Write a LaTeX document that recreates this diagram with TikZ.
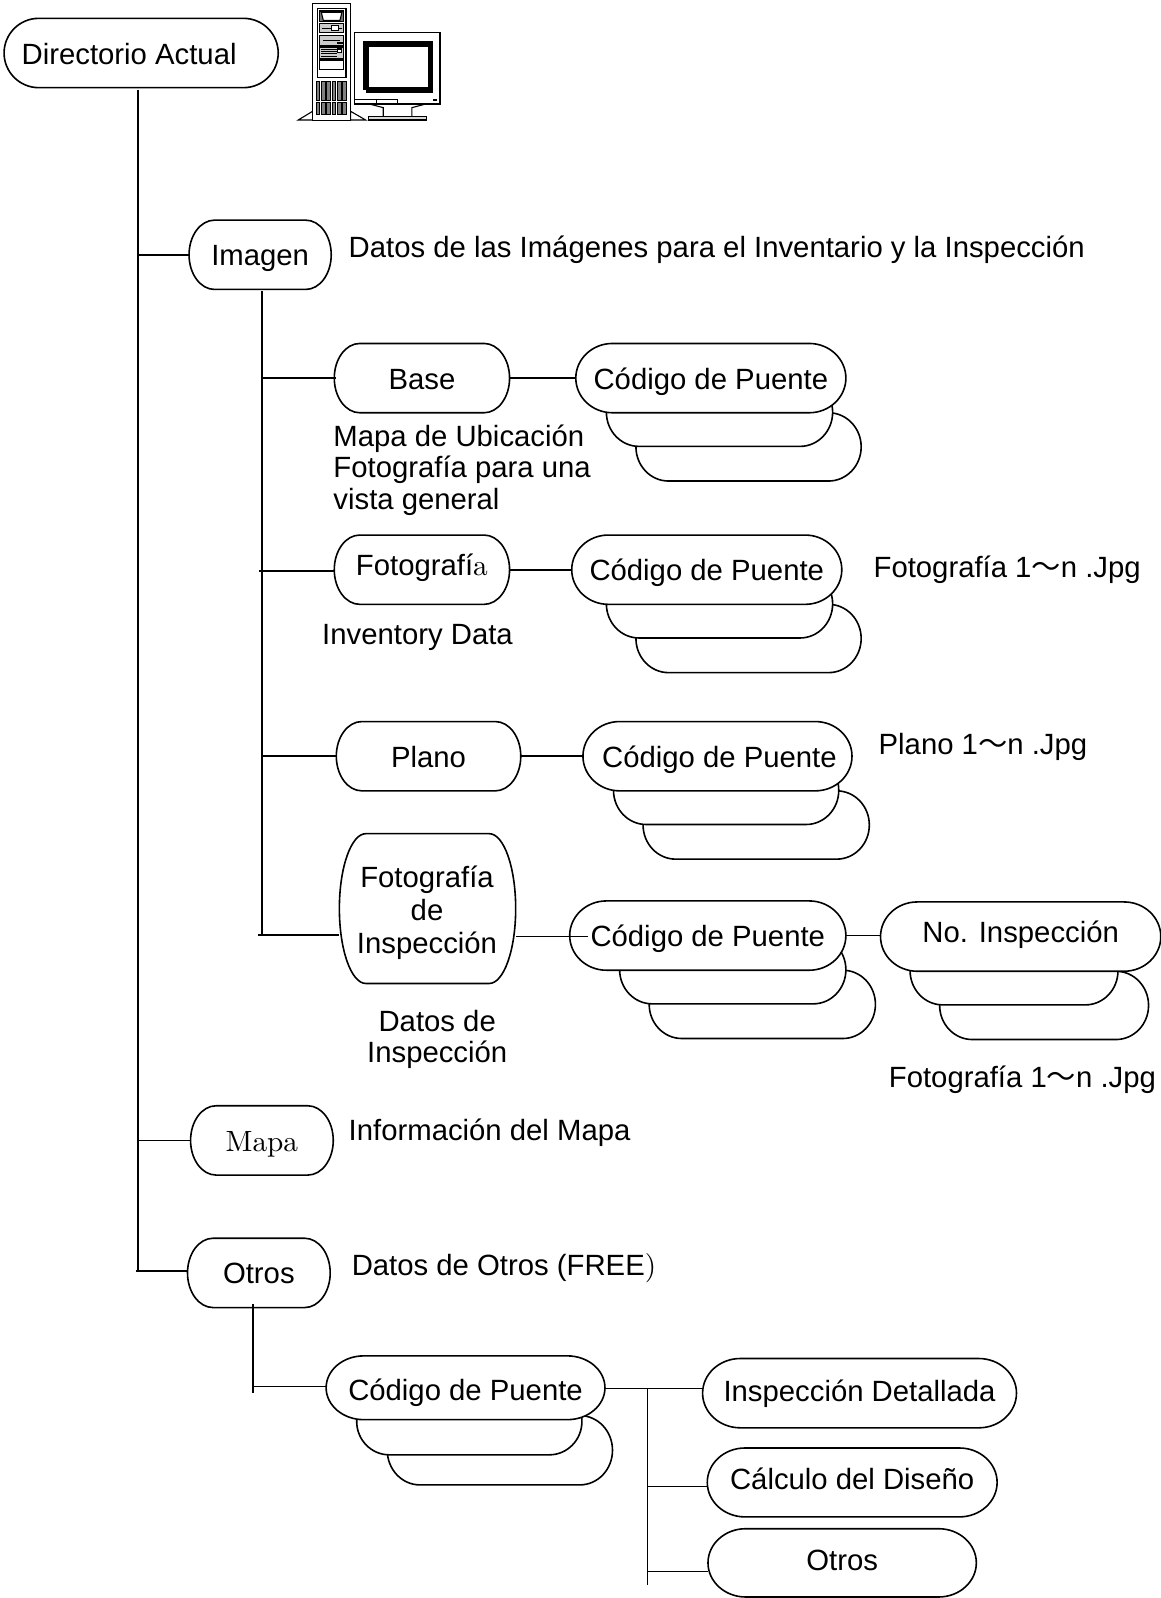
\documentclass[tikz,border=0pt]{standalone}
\usepackage{fontspec}
\setsansfont{Liberation Sans}
\newfontfamily\cjkwave{Noto Sans CJK JP}
\newfontfamily\lmten[Extension=.otf]{lmroman10-regular}
\newcommand{\wv}{{\cjkwave 〜}}
\tikzset{
  pillline/.style={draw=black,fill=white,line width=1.6pt},
  pillbox/.style={inner sep=0pt,text height=20.8pt,text depth=0pt,font=\fontsize{29.3}{31.6}\selectfont\sffamily},
  lbl/.style={inner sep=0pt,anchor=base west,align=left,font=\fontsize{29.3}{31.6}\selectfont\sffamily},
  lblc/.style={inner sep=0pt,anchor=base,align=center,font=\fontsize{29.3}{31.6}\selectfont\sffamily},
  conn/.style={line width=1.6pt,line cap=butt},
  ico/.style={line width=1.1pt,draw=black,fill=white},
}
% [corner x radius] name, x1,y1,x2,y2, text: outline with elliptical ends, then the named node
\newcommand{\pill}[7][27]{%
  \pgfmathsetmacro\pxa{#3}\pgfmathsetmacro\pya{#4}\pgfmathsetmacro\pxb{#5}\pgfmathsetmacro\pyb{#6}%
  \pgfmathsetmacro\prx{#1}\pgfmathsetmacro\pry{(\pyb-\pya)/2}\pgfmathsetmacro\pym{(\pya+\pyb)/2}%
  \pgfmathsetmacro\pcx{0.4477*\prx}\pgfmathsetmacro\pcy{0.5523*\pry}%
  \path[pillline] (\pxa,\pym)
    .. controls (\pxa,\pym-\pcy) and (\pxa+\pcx,\pya) .. (\pxa+\prx,\pya)
    -- (\pxb-\prx,\pya)
    .. controls (\pxb-\pcx,\pya) and (\pxb,\pym-\pcy) .. (\pxb,\pym)
    .. controls (\pxb,\pym+\pcy) and (\pxb-\pcx,\pyb) .. (\pxb-\prx,\pyb)
    -- (\pxa+\prx,\pyb)
    .. controls (\pxa+\pcx,\pyb) and (\pxa,\pym+\pcy) .. (\pxa,\pym) -- cycle;
  \node[pillbox,minimum width={(\pxb-\pxa)*1.0193pt},minimum height={(\pyb-\pya)*1.0193pt}]
    (#2) at (\pxa/2+\pxb/2,\pym) {#7};}
% name, topx1, topx2, secx1, secx2, thirdx1, thirdx2, y, text
\newcommand{\pila}[9]{%
  \def\stacktext{#9}%
  \pill[32]{#1c}{#6}{#8+68}{#7}{#8+135}{}%
  \pill[32]{#1b}{#4}{#8+34}{#5}{#8+101}{}%
  \pill[36]{#1}{#2}{#8}{#3}{#8+68}{\stacktext}}
\begin{document}
\begin{tikzpicture}[x=1.0193pt,y=-1.0193pt]
\useasboundingbox (0,0) rectangle (1139,1568);
\fill[white] (0,0) rectangle (1139,1568);

% ---- top level boxes
\pill[34]{dir}{4}{18}{273}{86}{\kern-24pt\raisebox{-1pt}{Directorio Actual}}
\pill[25]{imagen}{185.5}{216}{325}{284}{Imagen}
\pill[25]{mapa}{187}{1085}{327}{1153}{\raisebox{-1pt}{\lmten Mapa}}
\pill[25]{otros}{184}{1215}{324}{1283}{Otros}

% ---- second level
\pill[25]{base}{328}{337}{500}{405}{\raisebox{-1pt}{Base}}
\pill[25]{foto}{328}{525}{500}{593}{\raisebox{5pt}{Fotografí{\lmten a}}}
\pill[25]{plano}{330}{708}{511}{776}{\raisebox{-1pt}{Plano}}
\pill[26]{insp}{333}{818}{506}{965}{}
\node[lblc,font=\fontsize{29.3}{33}\selectfont\sffamily] (insptxt) at (419,936) {Fotografía\\de\\Inspección};

% ---- stacks
\pila{cbase}{565}{830}{595}{817}{624}{845}{337}{\raisebox{-1pt}{Código de Puente}}
\pila{cfoto}{561}{826}{595}{817}{624}{845}{525}{Código de Puente}
\pila{cplano}{572}{836}{602}{823}{631}{853}{708}{\kern4pt\raisebox{-1pt}{Código de Puente}}
\pila{cinsp}{559}{830}{608}{830}{637}{859}{884}{\raisebox{-1pt}{Código de Puente}}
\pila{cno}{864}{1139}{893}{1097}{922}{1127}{885}{\raisebox{4pt}{No. Inspección}}
\pill[32]{cotrosc}{380}{1389}{601}{1457}{}
\pill[32]{cotrosb}{350}{1362}{571}{1427.5}{}
\pill[37]{cotros}{320}{1330.4}{593.6}{1393}{\raisebox{-2.5pt}{Código de Puente}}

\pill[37]{det}{689.4}{1333}{997.4}{1401}{\raisebox{2pt}{Inspección Detallada}}
\pill[37]{calc}{694}{1420.8}{978.4}{1488.4}{\raisebox{3pt}{Cálculo del Diseño}}
\pill[37]{otr}{694.7}{1500}{958}{1567}{\raisebox{3pt}{Otros}}

% ---- free connector ends
\coordinate (t0) at (135.7,88);
\coordinate (t1) at (135.7,1247);
\coordinate (s0) at (257,286);
\coordinate (s1) at (257,917.4);
\coordinate (j4) at (253,917.4);
\coordinate (o0) at (248.5,1279.5);
\coordinate (o1) at (248.5,1367);
\coordinate (o2) at (248.5,1360.5);
\coordinate (r0) at (635.4,1362.4);
\coordinate (r1) at (635.4,1555);
\coordinate (y1) at (635.4,1458.5);
\coordinate (y2) at (635.4,1542);
\coordinate (tk) at (133,1247);
\coordinate (ft) at (254,560);
\coordinate (ci) at (576.7,919);

% ---- connectors
\draw[conn] (t0) -- (t1);
\draw[conn] (s0) -- (s1);
\draw[conn] (t0 |- imagen.west) -- (imagen.west);
\draw[conn] (t0 |- mapa.west) -- (mapa.west);
\draw[conn] (tk) -- (tk -| otros.west);
\draw[conn] (s0 |- base.west) -- ([xshift=2pt]base.west);
\draw[conn] (ft) -- (ft -| foto.west);
\draw[conn] (s0 |- plano.west) -- (plano.west);
\draw[conn] (j4) -- (j4 -| insp.west);
\draw[conn] (base.east) -- (cbase.west);
\draw[conn] (foto.east) -- (cfoto.west);
\draw[conn] (plano.east) -- (cplano.west);
\draw[conn] (insp.east |- ci) -- (ci);
\draw[conn] (cinsp.east) -- (cno.west |- cinsp.east);
\draw[conn] (o0) -- (o1);
\draw[conn] (o2) -- (o2 -| cotros.west);
\draw[conn] (r0 -| cotros.east) -- (r0 -| det.west);
\draw[conn] (r0) -- (r1);
\draw[conn] (y1) -- (y1 -| calc.west);
\draw[conn] (y2) -- (y2 -| otr.west);

% ---- free labels
\node[lbl] (l1) at (342,253) {Datos de las Imágenes para el Inventario y la Inspección};
\node[lbl] (l2) at (327,500) {Mapa de Ubicación\\Fotografía para una\\vista general};
\node[lbl] (l3) at (316,632.5) {Inventory Data};
\node[lbl] (l4) at (857,567) {Fotografía 1\wv n .Jpg};
\node[lbl] (l5) at (862,740) {Plano 1\wv n .Jpg};
\node[lblc] (l6) at (429,1043) {Datos de\\Inspección};
\node[lbl] (l7) at (872,1067) {Fotografía 1\wv n .Jpg};
\node[lbl] (l8) at (342,1119) {Información del Mapa};
\node[lbl] (l9) at (345,1252) {Datos de Otros (FREE{\lmten )}};

% ---- computer icon (drawn directly, in full-size pixels)
\begin{scope}[x=1pt,y=-1pt,shift={(280,0)}]
 \begin{scope}[x=0.3333pt,y=-0.3333pt]
  % feet
  \draw[ico] (98,334) -- (55,360) -- (98,360) -- cycle;
  \draw[ico] (212,334) -- (257,360) -- (212,360) -- cycle;
  % tower
  \draw[ico,line width=1.3pt] (98,10) rectangle (212,362);
  \draw[ico,line width=1.5pt] (112,25) rectangle (198,232);
  \draw[ico,fill=black!55] (118,33) rectangle (192,65);
  \draw[ico] (124,37) -- (186,37) -- (180,61) -- (130,61) -- cycle;
  \draw[ico,fill=black!20] (120,70) rectangle (190,98);
  \draw[line width=0.9pt] (125,84) -- (185,84);
  \draw[ico,line width=0.7pt] (155,76) rectangle (176,92);
  \draw[ico,fill=black!20] (120,106) rectangle (190,136);
  \draw[line width=1.5pt] (130,121) -- (180,121);
  \fill[black] (172,126) rectangle (188,133);
  \draw[ico,fill=black!20] (120,141) rectangle (190,176);
  \foreach \yy in {147,154,161,168}{\draw[line width=0.8pt] (124,\yy) -- (170,\yy);}
  \fill[black] (172,145) rectangle (186,158);
  \fill[white] (175,150) rectangle (184,156);
  \draw[ico] (120,180) rectangle (190,208);
  \foreach \xx in {108,124,140,156,172,188}{
    \draw[ico,fill=black!50,line width=0.8pt] (\xx,243) rectangle ++(11,59);
    \draw[ico,fill=black!50,line width=0.8pt] (\xx,308) rectangle ++(11,34);
  }
  % monitor stand and base
  \draw[ico] (268,312) -- (310,323) -- (310,350) -- (396,350) -- (396,323) -- (438,312) -- cycle;
  \draw[ico,fill=black!15] (265,349) rectangle (440,360);
  % monitor
  \draw[ico,line width=1.5pt] (224,98) rectangle (480,312);
  \fill[black] (248,122) rectangle (458,280);
  \fill[white] (266,141) rectangle (444,262);
  \fill[white] (248,280) rectangle (258,270);
  \draw[line width=0.8pt] (226,298) -- (352,298) -- (352,310);
  \draw[line width=0.8pt] (290,298) -- (290,310);
  \fill[black] (460,298) rectangle (472,303);
 \end{scope}
\end{scope}
\end{tikzpicture}
\end{document}
